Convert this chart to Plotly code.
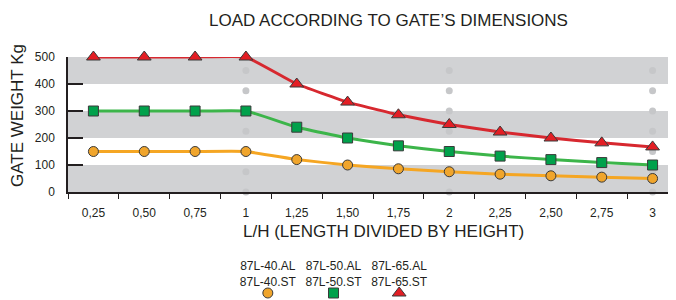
import plotly.graph_objects as go

categories = ["0,25", "0,50", "0,75", "1", "1,25", "1,50", "1,75", "2", "2,25", "2,50", "2,75", "3"]
s40 = [150, 150, 150, 150, 120, 100, 86, 75, 66, 60, 55, 50]
s50 = [300, 300, 300, 300, 240, 200, 171, 150, 133, 120, 109, 100]
s65 = [500, 500, 500, 500, 400, 333, 286, 250, 222, 200, 182, 167]
legend_keys = ["87L-40.AL<br>87L-40.ST", "87L-50.AL<br>87L-50.ST", "87L-65.AL<br>87L-65.ST"]
dot_cats = ["1", "2", "3"]
dot_levels = [0, 75, 150, 225, 300, 375, 450]
y_ticks = [0, 100, 200, 300, 400, 500]

W, H = 676, 300
OFF = 8  # page body margin offset
FONT = "Liberation Sans"
TXT = "#231f20"


def px_x(x):
    return (x - OFF) / W


def px_y(y):
    return (H - (y - OFF)) / H


series = [
    (s40, "#f5a623", "#f0a52c", "circle", 10),
    (s50, "#3cb54a", "#00a14b", "square", 10),
    (s65, "#d7282f", "#e31e24", "triangle-up", 12),
]

fig = go.Figure()

# gray dotted verticals
for c in dot_cats:
    fig.add_trace(go.Scatter(x=[c] * len(dot_levels), y=dot_levels, mode="markers",
                             marker=dict(color="#c6c7c9", size=7), hoverinfo="skip",
                             showlegend=False, cliponaxis=False))

for vals, lc, mc, sym, sz in series:
    fig.add_trace(go.Scatter(x=categories, y=vals, mode="lines+markers",
                             line=dict(color=lc, width=3, shape="spline", smoothing=0.3),
                             marker=dict(symbol=sym, size=sz, color=mc,
                                         line=dict(color="#3a3a3a", width=1)),
                             showlegend=False, cliponaxis=False))

# legend keys
for i, (vals, lc, mc, sym, sz) in enumerate(series):
    fig.add_trace(go.Scatter(x=[legend_keys[i]], y=[0], mode="markers", xaxis="x2", yaxis="y2",
                             marker=dict(symbol=sym, size=sz, color=mc,
                                         line=dict(color="#3a3a3a", width=1)),
                             showlegend=False, cliponaxis=False))

xdom = [px_x(68), px_x(678)]
ydom = [px_y(192), px_y(57)]

shapes = []
for lo in [0, 200, 400]:
    shapes.append(dict(type="rect", xref="paper", yref="y", x0=xdom[0], x1=1, y0=lo, y1=lo + 100,
                       fillcolor="#d1d2d4", line=dict(width=0), layer="below"))

fig.update_layout(
    template="none",
    width=W, height=H, autosize=False,
    margin=dict(l=0, r=0, t=0, b=0, pad=0, autoexpand=False),
    paper_bgcolor="white", plot_bgcolor="rgba(0,0,0,0)",
    font=dict(family=FONT, color=TXT),
    shapes=shapes,
    xaxis=dict(domain=xdom, type="category", categoryorder="array", categoryarray=categories,
               range=[-0.5, 11.5], showgrid=False, zeroline=False, automargin=False,
               showline=True, linecolor="#231f20", linewidth=1.5,
               ticks="outside", tickson="boundaries", ticklen=5, tickcolor="#231f20", tickwidth=1.2,
               tickfont=dict(size=12, color=TXT), ticklabelstandoff=9, anchor="y", fixedrange=True),
    yaxis=dict(domain=ydom, range=[0, 500], tickvals=y_ticks, showgrid=False, zeroline=False,
               automargin=False,
               showline=True, linecolor="#231f20", linewidth=1.5,
               ticks="inside", ticklen=15, tickcolor="#231f20", tickwidth=1.5,
               tickfont=dict(size=12, color=TXT), ticklabelstandoff=9, anchor="x", fixedrange=True),
    xaxis2=dict(domain=[px_x(235), px_x(432)], type="category", categoryorder="array",
                categoryarray=legend_keys, range=[-0.5, 2.5], anchor="y2", side="top",
                showgrid=False, zeroline=False, showline=False, ticks="", automargin=False,
                tickfont=dict(size=12, color=TXT), fixedrange=True),
    yaxis2=dict(domain=[px_y(297), px_y(289)], range=[-1, 1], anchor="x2", visible=False,
                fixedrange=True, automargin=False),
    annotations=[
        dict(text="LOAD ACCORDING TO GATE’S DIMENSIONS", xref="paper", yref="paper",
             x=px_x(388), y=px_y(20), showarrow=False, font=dict(size=17, color=TXT),
             xanchor="center", yanchor="middle"),
        dict(text="L/H (LENGTH DIVIDED BY HEIGHT)", xref="paper", yref="paper",
             x=px_x(383), y=px_y(231), showarrow=False, font=dict(size=17, color=TXT),
             xanchor="center", yanchor="middle"),
        dict(text="GATE WEIGHT Kg", xref="paper", yref="paper", textangle=-90,
             x=px_x(17), y=px_y(116), showarrow=False, font=dict(size=17, color=TXT),
             xanchor="center", yanchor="middle"),
    ],
)

fig.write_html("out.html")
